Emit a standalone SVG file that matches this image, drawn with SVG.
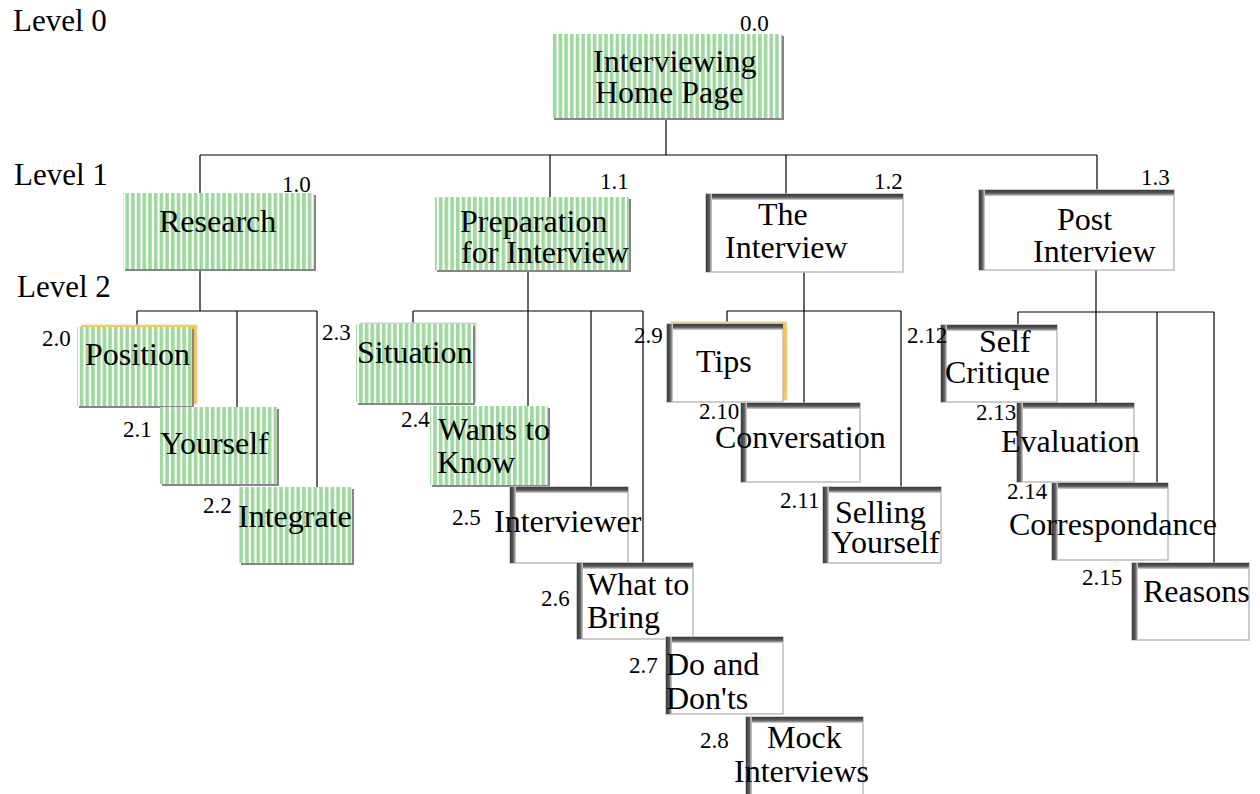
<svg xmlns="http://www.w3.org/2000/svg" width="1260" height="794" viewBox="0 0 1260 794" font-family="'Liberation Serif', 'DejaVu Serif', serif">
<defs>
<pattern id="stripes" patternUnits="userSpaceOnUse" x="0" y="0" width="5.7" height="10">
<rect x="0" y="0" width="5.7" height="10" fill="#ffffff"/>
<rect x="0" y="0" width="3.6" height="10" fill="#9dd99d"/>
</pattern>
<linearGradient id="gT" x1="0" y1="0" x2="0" y2="1">
<stop offset="0" stop-color="#3a3a3a"/>
<stop offset="0.55" stop-color="#5c5c5c"/>
<stop offset="1" stop-color="#d8d8d8"/>
</linearGradient>
<linearGradient id="gL" x1="0" y1="0" x2="1" y2="0">
<stop offset="0" stop-color="#3a3a3a"/>
<stop offset="0.55" stop-color="#5c5c5c"/>
<stop offset="1" stop-color="#d8d8d8"/>
</linearGradient>
</defs>
<style>
text{font-family:'Liberation Serif','DejaVu Serif',serif;fill:#000}
.t{font-size:32px}
.n{font-size:23px}
.lv{font-size:31px}
.sh{fill:#858585}
.bg{fill:#fff}
.gs{fill:url(#stripes)}
.wb{fill:#fff;stroke:#bdbdbd;stroke-width:1.5}
.tb{fill:url(#gT)}
.lb{fill:url(#gL)}
.yl{fill:#f6c743;stroke:#d8d8d8;stroke-width:1}
.c line{stroke:#000;stroke-width:1.2}
</style>
<rect width="1260" height="794" fill="#fff"/>

<g id="levels">
<text class="lv" x="13" y="31">Level 0</text>
<text class="lv" x="14" y="185">Level 1</text>
<text class="lv" x="17" y="297">Level 2</text>
</g>

<g class="c" id="connectors">
<line x1="666" y1="118" x2="666" y2="155"/>
<line x1="200" y1="155" x2="1097" y2="155"/>
<line x1="200" y1="155" x2="200" y2="193"/>
<line x1="550" y1="155" x2="550" y2="197"/>
<line x1="786" y1="155" x2="786" y2="194"/>
<line x1="1097" y1="155" x2="1097" y2="190"/>

<line x1="200" y1="269" x2="200" y2="311"/>
<line x1="137" y1="311" x2="317" y2="311"/>
<line x1="137" y1="311" x2="137" y2="327"/>
<line x1="237" y1="311" x2="237" y2="407"/>
<line x1="317" y1="311" x2="317" y2="487"/>

<line x1="528" y1="270" x2="528" y2="311"/>
<line x1="413" y1="311" x2="643" y2="311"/>
<line x1="413" y1="311" x2="413" y2="324"/>
<line x1="528" y1="311" x2="528" y2="406"/>
<line x1="591" y1="311" x2="591" y2="487"/>
<line x1="643" y1="311" x2="643" y2="563"/>

<line x1="804" y1="272" x2="804" y2="311"/>
<line x1="727" y1="311" x2="901" y2="311"/>
<line x1="727" y1="311" x2="727" y2="324"/>
<line x1="804" y1="311" x2="804" y2="403"/>
<line x1="901" y1="311" x2="901" y2="487"/>

<line x1="1096" y1="270" x2="1096" y2="312"/>
<line x1="1018" y1="312" x2="1214" y2="312"/>
<line x1="1018" y1="312" x2="1018" y2="325"/>
<line x1="1096" y1="312" x2="1096" y2="403"/>
<line x1="1157" y1="312" x2="1157" y2="483"/>
<line x1="1214" y1="312" x2="1214" y2="563"/>
</g>

<g id="n0_0">
<rect class="sh" x="554" y="36" width="230" height="84"/>
<rect class="bg" x="552" y="34" width="230" height="84"/>
<rect class="gs" x="552" y="34" width="230" height="84"/>
<text class="n" x="740" y="31">0.0</text>
<text class="t" x="593" y="72">Interviewing</text>
<text class="t" x="595" y="103">Home Page</text>
</g>

<g id="n1_0">
<rect class="sh" x="125" y="195" width="191" height="76"/>
<rect class="bg" x="123" y="193" width="191" height="76"/>
<rect class="gs" x="123" y="193" width="191" height="76"/>
<text class="n" x="282" y="192">1.0</text>
<text class="t" x="159" y="232">Research</text>
</g>

<g id="n1_1">
<rect class="sh" x="437" y="199" width="194" height="73"/>
<rect class="bg" x="435" y="197" width="194" height="73"/>
<rect class="gs" x="435" y="197" width="194" height="73"/>
<text class="n" x="600" y="189">1.1</text>
<text class="t" x="460" y="232">Preparation</text>
<text class="t" x="461" y="263">for Interview</text>
</g>

<g id="n1_2">
<rect class="wb" x="706" y="194" width="197" height="78"/>
<rect class="tb" x="706" y="194" width="197" height="6"/>
<rect class="lb" x="706" y="194" width="6" height="78"/>
<text class="n" x="874" y="189">1.2</text>
<text class="t" x="758" y="225">The</text>
<text class="t" x="725" y="258">Interview</text>
</g>

<g id="n1_3">
<rect class="wb" x="979" y="190" width="195" height="80"/>
<rect class="tb" x="979" y="190" width="195" height="6"/>
<rect class="lb" x="979" y="190" width="6" height="80"/>
<text class="n" x="1141" y="185">1.3</text>
<text class="t" x="1057" y="230">Post</text>
<text class="t" x="1033" y="262">Interview</text>
</g>

<g id="n2_0">
<rect class="yl" x="81" y="325" width="116" height="79"/>
<rect class="sh" x="79" y="329" width="115" height="79"/>
<rect class="bg" x="77" y="327" width="115" height="79"/>
<rect class="gs" x="77" y="327" width="115" height="79"/>
<text class="n" x="42" y="346">2.0</text>
<text class="t" x="85" y="365">Position</text>
</g>

<g id="n2_1">
<rect class="sh" x="162" y="409" width="117" height="77"/>
<rect class="bg" x="160" y="407" width="117" height="77"/>
<rect class="gs" x="160" y="407" width="117" height="77"/>
<text class="n" x="123" y="437">2.1</text>
<text class="t" x="160" y="454">Yourself</text>
</g>

<g id="n2_2">
<rect class="sh" x="241" y="489" width="113" height="76"/>
<rect class="bg" x="239" y="487" width="113" height="76"/>
<rect class="gs" x="239" y="487" width="113" height="76"/>
<text class="n" x="203" y="513">2.2</text>
<text class="t" x="238" y="527">Integrate</text>
</g>

<g id="n2_3">
<rect class="yl" x="360" y="323" width="116" height="79"/>
<rect class="sh" x="358" y="326" width="117" height="79"/>
<rect class="bg" x="356" y="324" width="117" height="79"/>
<rect class="gs" x="356" y="324" width="117" height="79"/>
<text class="n" x="322" y="340">2.3</text>
<text class="t" x="357" y="363">Situation</text>
</g>

<g id="n2_4">
<rect class="sh" x="432" y="408" width="118" height="79"/>
<rect class="bg" x="430" y="406" width="118" height="79"/>
<rect class="gs" x="430" y="406" width="118" height="79"/>
<text class="n" x="401" y="427">2.4</text>
<text class="t" x="438" y="440">Wants to</text>
<text class="t" x="437" y="473">Know</text>
</g>

<g id="n2_5">
<rect class="wb" x="510" y="487" width="118" height="76"/>
<rect class="tb" x="510" y="487" width="118" height="6"/>
<rect class="lb" x="510" y="487" width="6" height="76"/>
<text class="n" x="452" y="525">2.5</text>
<text class="t" x="494" y="532">Interviewer</text>
</g>

<g id="n2_6">
<rect class="wb" x="577" y="563" width="116" height="76"/>
<rect class="tb" x="577" y="563" width="116" height="6"/>
<rect class="lb" x="577" y="563" width="6" height="76"/>
<text class="n" x="541" y="606">2.6</text>
<text class="t" x="587" y="595">What to</text>
<text class="t" x="587" y="628">Bring</text>
</g>

<g id="n2_7">
<rect class="wb" x="666" y="637" width="117" height="77"/>
<rect class="tb" x="666" y="637" width="117" height="6"/>
<rect class="lb" x="666" y="637" width="6" height="77"/>
<text class="n" x="629" y="673">2.7</text>
<text class="t" x="666" y="675">Do and</text>
<text class="t" x="666" y="709">Don'ts</text>
</g>

<g id="n2_8">
<rect class="wb" x="746" y="717" width="117" height="80"/>
<rect class="tb" x="746" y="717" width="117" height="6"/>
<rect class="lb" x="746" y="717" width="6" height="80"/>
<text class="n" x="700" y="748">2.8</text>
<text class="t" x="767" y="748">Mock</text>
<text class="t" x="734" y="782">Interviews</text>
</g>

<g id="n2_9">
<rect class="yl" x="671" y="322" width="116" height="78"/>
<rect class="wb" x="667" y="324" width="116" height="78"/>
<rect class="tb" x="667" y="324" width="116" height="6"/>
<rect class="lb" x="667" y="324" width="6" height="78"/>
<text class="n" x="634" y="343">2.9</text>
<text class="t" x="696" y="372">Tips</text>
</g>

<g id="n2_10">
<rect class="wb" x="741" y="403" width="119" height="79"/>
<rect class="tb" x="741" y="403" width="119" height="6"/>
<rect class="lb" x="741" y="403" width="6" height="79"/>
<text class="n" x="699" y="419">2.10</text>
<text class="t" x="715" y="448">Conversation</text>
</g>

<g id="n2_11">
<rect class="wb" x="823" y="487" width="118" height="76"/>
<rect class="tb" x="823" y="487" width="118" height="6"/>
<rect class="lb" x="823" y="487" width="6" height="76"/>
<text class="n" x="780" y="508">2.11</text>
<text class="t" x="835" y="523">Selling</text>
<text class="t" x="831" y="553">Yourself</text>
</g>

<g id="n2_12">
<rect class="wb" x="941" y="325" width="116" height="77"/>
<rect class="tb" x="941" y="325" width="116" height="6"/>
<rect class="lb" x="941" y="325" width="6" height="77"/>
<text class="n" x="907" y="343">2.12</text>
<text class="t" x="979" y="352">Self</text>
<text class="t" x="945" y="383">Critique</text>
</g>

<g id="n2_13">
<rect class="wb" x="1017" y="403" width="117" height="79"/>
<rect class="tb" x="1017" y="403" width="117" height="6"/>
<rect class="lb" x="1017" y="403" width="6" height="79"/>
<text class="n" x="976" y="420">2.13</text>
<text class="t" x="1001" y="452">Evaluation</text>
</g>

<g id="n2_14">
<rect class="wb" x="1052" y="483" width="116" height="77"/>
<rect class="tb" x="1052" y="483" width="116" height="6"/>
<rect class="lb" x="1052" y="483" width="6" height="77"/>
<text class="n" x="1007" y="499">2.14</text>
<text class="t" x="1009" y="535">Correspondance</text>
</g>

<g id="n2_15">
<rect class="wb" x="1132" y="563" width="117" height="77"/>
<rect class="tb" x="1132" y="563" width="117" height="6"/>
<rect class="lb" x="1132" y="563" width="6" height="77"/>
<text class="n" x="1082" y="585">2.15</text>
<text class="t" x="1143" y="602">Reasons</text>
</g>
</svg>
